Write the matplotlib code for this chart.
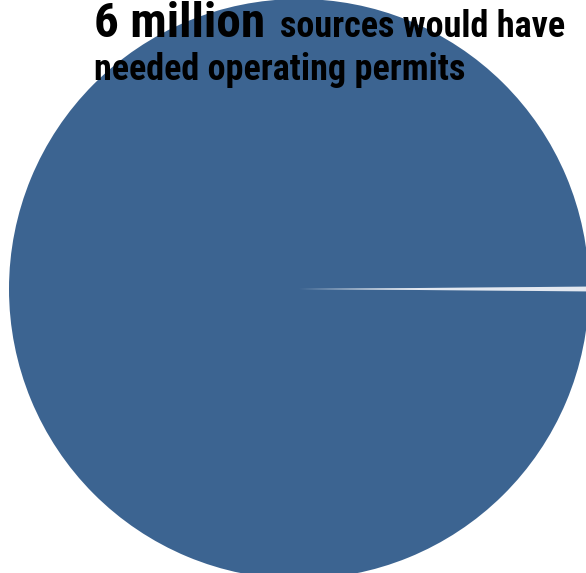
import matplotlib
matplotlib.use("Agg")
import matplotlib.pyplot as plt

# data
labels = ["Other", "Needed operating permits"]
values = [16000, 6000000]
colors = ["#e3e8f0", "#3c6491"]

headline = "6 million"
subline1 = "sources would have"
subline2 = "needed operating permits"

fonts = ["Roboto Condensed", "DejaVu Sans"]

W, H = 586, 573
fig = plt.figure(figsize=(W / 100, H / 100), dpi=100)
ax = fig.add_axes([0, 0, 1, 1])

# sliver centred on the 3 o'clock direction
sliver_deg = values[0] / sum(values) * 360
ax.pie(values, colors=colors, startangle=-sliver_deg / 2, counterclock=True,
       center=(299, H - 289), radius=290, frame=True,
       wedgeprops={"linewidth": 0, "antialiased": True})
ax.set_xlim(0, W)
ax.set_ylim(0, H)
ax.axis("off")

# headline text
fig.text(94 / W, 1 - 37 / H, headline, fontsize=35.5, fontweight="bold",
         family=fonts, va="baseline", ha="left")
fig.text(280 / W, 1 - 37 / H, subline1, fontsize=26, fontweight="bold",
         family=fonts, va="baseline", ha="left")
fig.text(94 / W, 1 - 80 / H, subline2, fontsize=26, fontweight="bold",
         family=fonts, va="baseline", ha="left")

fig.savefig("out.png", dpi=100)
